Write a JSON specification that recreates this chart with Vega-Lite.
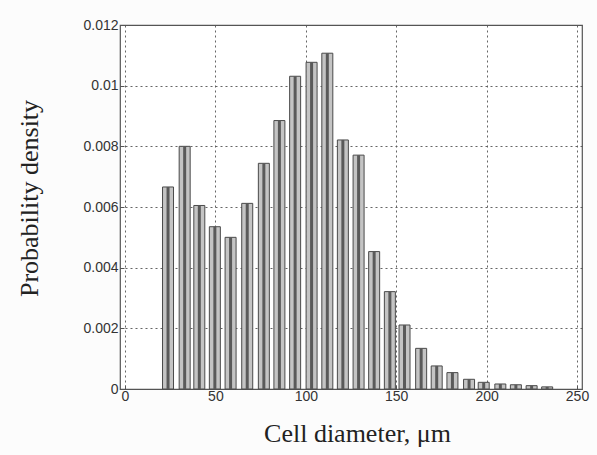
{
  "$schema": "https://vega.github.io/schema/vega-lite/v6.json",
  "autosize": {"type": "none"},
  "padding": {"left": 120, "top": 25, "right": 15, "bottom": 66},
  "width": 462,
  "height": 364,
  "background": "#fcfcfc",
  "config": {
    "view": {"stroke": "#555", "strokeWidth": 1.2, "fill": "white"},
    "axis": {
      "labelFont": "Liberation Sans",
      "labelFontSize": 14,
      "labelColor": "#333",
      "titleFont": "Liberation Serif",
      "titleFontSize": 26,
      "titleFontWeight": "normal",
      "titleColor": "#222",
      "gridColor": "#555",
      "gridDash": [2, 3],
      "gridOpacity": 0.9,
      "domain": false,
      "tickColor": "#555",
      "tickSize": -4
    }
  },
  "data": {
    "values": [
      {"d": 23.8, "p": 0.00666},
      {"d": 33.0, "p": 0.0080},
      {"d": 41.1, "p": 0.00605},
      {"d": 49.7, "p": 0.00535},
      {"d": 58.4, "p": 0.0050},
      {"d": 67.6, "p": 0.00612},
      {"d": 76.8, "p": 0.00744},
      {"d": 85.4, "p": 0.00885},
      {"d": 94.1, "p": 0.01031},
      {"d": 103.2, "p": 0.01077},
      {"d": 111.9, "p": 0.01107},
      {"d": 120.5, "p": 0.00821},
      {"d": 129.2, "p": 0.00771},
      {"d": 137.8, "p": 0.00453},
      {"d": 146.5, "p": 0.00321},
      {"d": 154.6, "p": 0.00211},
      {"d": 163.8, "p": 0.00134},
      {"d": 172.4, "p": 0.00076},
      {"d": 181.1, "p": 0.00054},
      {"d": 190.3, "p": 0.00032},
      {"d": 198.4, "p": 0.00022},
      {"d": 207.6, "p": 0.000165},
      {"d": 216.2, "p": 0.00014},
      {"d": 224.9, "p": 0.00011},
      {"d": 233.5, "p": 0.00007}
    ]
  },
  "encoding": {
    "x": {
      "field": "d",
      "type": "quantitative",
      "scale": {"domain": [0, 250], "nice": false, "zero": false},
      "axis": {
        "values": [0, 50, 100, 150, 200, 250],
        "title": "Cell diameter, μm",
        "labelPadding": 4,
        "titleX": 237,
        "titleY": 31,
        "titleBaseline": "top"
      }
    },
    "y": {
      "field": "p",
      "type": "quantitative",
      "scale": {"domain": [0, 0.012], "nice": false},
      "axis": {
        "values": [0, 0.002, 0.004, 0.006, 0.008, 0.01, 0.012],
        "format": "~g",
        "title": "Probability density",
        "labelPadding": 6,
        "titleX": -78,
        "titleY": 173,
        "titleBaseline": "bottom"
      }
    }
  },
  "layer": [
    {"mark": {"type": "bar", "size": 11, "fill": "#c4c4c4", "stroke": "#4a4a4a", "strokeWidth": 1}},
    {"mark": {"type": "bar", "size": 3, "fill": "#5a5a5a", "stroke": null}}
  ]
}
